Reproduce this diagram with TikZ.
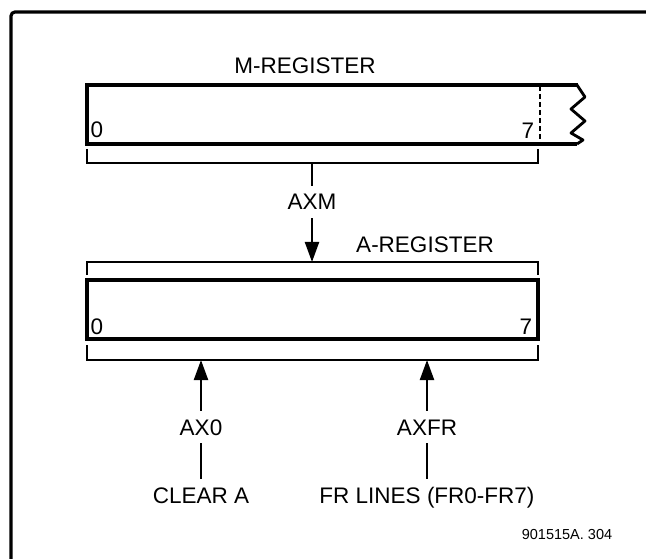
\documentclass[tikz,border=0pt]{standalone}
\usepackage{fontspec}
\setmainfont{Liberation Sans}
\usetikzlibrary{arrows.meta}
\tikzset{
  frame/.style={line width=3.2pt},
  reg/.style={line width=3.4pt, line join=miter},
  brk/.style={line width=2.9pt},
  wire/.style={line width=2.2pt},
  arr/.style={wire, -{Triangle[length=20pt,width=14pt]}},
  lbl/.style={font=\fontsize{22.5}{26}\selectfont, inner sep=8pt, text height=16pt, text depth=0pt},
  dig/.style={font=\fontsize{22.5}{26}\selectfont, inner sep=0pt, text height=16pt, text depth=0pt},
  small/.style={font=\fontsize{14.5}{17}\selectfont, inner sep=0pt}
}
\begin{document}
\begin{tikzpicture}[x=1pt,y=-1pt]
\useasboundingbox (0,0) rectangle (646,559);
% frame
\draw[frame, rounded corners=4pt] (11,559) -- (11,12) -- (646,12);

% M-register
\node[lbl] (mreg) at (305,66) {M-REGISTER};
\draw[reg] (541,85) -- (87,85) -- (87,144) -- (541,144);
\draw[reg] (539,85) -- (578,85);
\draw[reg] (539,144) -- (577,144);
\draw[line width=1.8pt, dashed, dash pattern=on 5pt off 3pt] (540,86) -- (540,143);
\draw[line width=2.8pt, line join=round] (577,85) -- (585,97) -- (571,109) -- (585,121) -- (571,133) -- (583,140) -- (577,144);
\node[dig] (m0) at (97,130) {0};
\node[dig] (m7) at (528,131) {7};
% M bracket
\coordinate (mbr) at (312,163);
\draw[brk] (87,149) -- (87,163) -- (538,163) -- (538,149);

% AXM
\node[lbl] (axm) at (312,202) {AXM};
\draw[wire] (mbr) -- (axm.north);
\coordinate (abrt) at (312,262);
\draw[arr] (axm.south) -- (abrt);

% A-register
\node[lbl] (areg) at (425,245) {A-REGISTER};
\draw[brk] (87,275) -- (87,262) -- (538,262) -- (538,275);
\draw[reg] (87,280) rectangle (538,339);
\node[dig] (a0) at (97,326) {0};
\node[dig] (a7) at (526,326) {7};
\draw[brk] (87,345) -- (87,360) -- (538,360) -- (538,345);
\coordinate (abr1) at (201,360);
\coordinate (abr2) at (427,360);

% inputs
\node[lbl] (ax0) at (201,427) {AX0};
\node[lbl] (axfr) at (427,427) {AXFR};
\node[lbl] (clr) at (201,495) {CLEAR A};
\node[lbl] (frl) at (427,495) {FR LINES (FR0-FR7)};
\draw[arr] (ax0.north) -- (abr1);
\draw[arr] (axfr.north) -- (abr2);
\draw[wire] (clr.north) -- (ax0.south);
\draw[wire] (frl.north) -- (axfr.south);

\node[small] (fig) at (567,535) {901515A. 304};
\end{tikzpicture}
\end{document}
